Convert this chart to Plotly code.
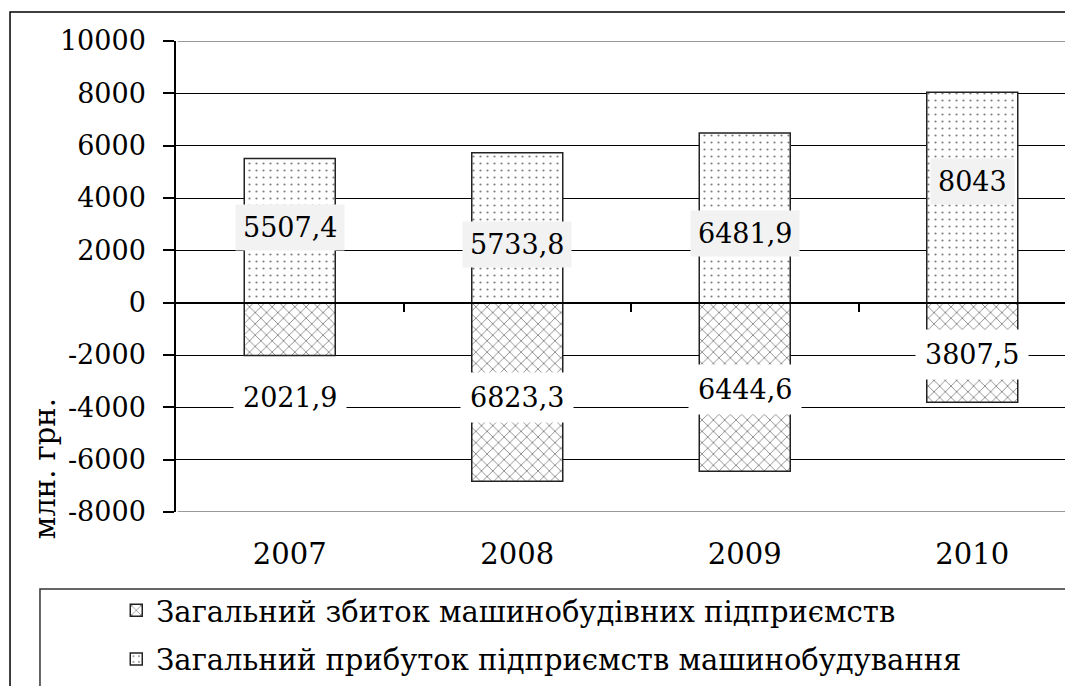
import plotly.graph_objects as go

years = ["2007", "2008", "2009", "2010"]
profit = [5507.4, 5733.8, 6481.9, 8043]
loss = [2021.9, 6823.3, 6444.6, 3807.5]
y_ticks = [10000, 8000, 6000, 4000, 2000, 0, -2000, -4000, -6000, -8000]
y_ticklabels = ["10000", "8000", "6000", "4000", "2000", "0", "-2000", "-4000", "-6000", "-8000"]
name_loss = "Загальний збиток машинобудівних підприємств"
name_profit = "Загальний прибуток підприємств машинобудування"
y_title = "млн. грн."

# label anchor heights (layout positions, data units)
profit_label_y = [2870, 2220, 2650, 4620]
loss_label_y = [-3630, -3630, -3320, -1990]

FONT = "DejaVu Serif"
FS = 29
FS_SMALL = 27
xs = list(range(len(years)))
y_min, y_max = y_ticks[-1], y_ticks[0]

def fmt(v):
    return ("%g" % v).replace(".", ",")

fig = go.Figure()
fig.add_trace(go.Bar(
    x=xs, y=[-v for v in loss], name=name_loss, width=0.4,
    marker=dict(color="white", line=dict(color="#222", width=1.5),
                pattern=dict(shape="x", size=8, solidity=0.2, fgcolor="black", bgcolor="white")),
    legendgroup="a",
))
fig.add_trace(go.Bar(
    x=xs, y=profit, name=name_profit, width=0.4,
    marker=dict(color="white", line=dict(color="#222", width=1.5),
                pattern=dict(shape=".", size=7, solidity=0.08, fgcolor="black", bgcolor="white")),
    legendgroup="b",
))
# invisible trace on overlay axis to draw zero line with category ticks
fig.add_trace(go.Scatter(x=[-0.5, 3.5], y=[0, 0], xaxis="x2", mode="lines",
                         line=dict(width=0), showlegend=False, hoverinfo="skip"))

anns = []
for i, v in enumerate(profit):
    anns.append(dict(x=xs[i], y=profit_label_y[i], xref="x", yref="y", text=fmt(v),
                     showarrow=False, bgcolor="#f2f2f2", borderpad=7,
                     font=dict(family=FONT, size=FS_SMALL, color="black")))
for i, v in enumerate(loss):
    anns.append(dict(x=xs[i], y=loss_label_y[i], xref="x", yref="y", text=fmt(v),
                     showarrow=False, bgcolor="white", borderpad=9,
                     font=dict(family=FONT, size=FS_SMALL, color="black")))
anns.append(dict(x=-0.1448, y=0.093, xref="paper", yref="paper", text=y_title, textangle=-90,
                 xanchor="center", yanchor="middle",
                 showarrow=False, font=dict(family=FONT, size=FS, color="black")))

W = 905.0  # plot width in px
xr = [-0.5, -0.5 + W / 227.5]
fig.update_layout(
    width=1073, height=686,
    margin=dict(l=168, r=0, t=33, b=182),
    paper_bgcolor="white", plot_bgcolor="white",
    barmode="relative",
    showlegend=True,
    legend=dict(x=-0.066, y=-0.155, xanchor="left", yanchor="top",
                font=dict(family=FONT, size=FS, color="black"),
                traceorder="grouped", tracegroupgap=8,
                bgcolor="rgba(0,0,0,0)", itemwidth=30),
    xaxis=dict(range=xr, tickvals=xs, ticktext=years, showgrid=False, zeroline=False,
               showline=False, ticks="", ticklabelstandoff=22,
               tickfont=dict(family=FONT, size=FS, color="black")),
    xaxis2=dict(range=xr, overlaying="x", anchor="free", position=8000 / 18000,
                side="bottom", tickvals=[0.5, 1.5, 2.5], ticks="outside", ticklen=9,
                tickwidth=1.5, tickcolor="black", showticklabels=False,
                showline=True, linecolor="black", linewidth=1.5, showgrid=False, zeroline=False),
    yaxis=dict(range=[y_min, y_max], tickvals=y_ticks, ticktext=y_ticklabels,
               showgrid=True, gridcolor="black", gridwidth=1.3, zeroline=False,
               showline=True, linecolor="black", linewidth=1.5,
               ticks="outside", ticklen=11, tickwidth=1.5, tickcolor="black",
               ticklabelstandoff=12,
               tickfont=dict(family=FONT, size=FS_SMALL, color="black")),
    annotations=anns,
    shapes=[
        dict(type="rect", xref="paper", yref="paper", x0=-0.1834, x1=1.2, y0=-0.6, y1=1.0616,
             line=dict(color="black", width=1.5), fillcolor="rgba(0,0,0,0)", layer="below"),
        dict(type="rect", xref="paper", yref="paper", x0=-0.1503, x1=0.9856, y0=-0.6, y1=-0.1635,
             line=dict(color="#333", width=1.5), fillcolor="rgba(0,0,0,0)"),
        # top and bottom gridlines are grey in the reference
        dict(type="line", xref="paper", yref="y", x0=0.002, x1=1, y0=y_max, y1=y_max,
             line=dict(color="#999999", width=2), layer="above"),
        dict(type="line", xref="paper", yref="y", x0=0.002, x1=1, y0=y_min, y1=y_min,
             line=dict(color="#999999", width=2), layer="above"),
    ],
)
fig.write_html("out.html")
